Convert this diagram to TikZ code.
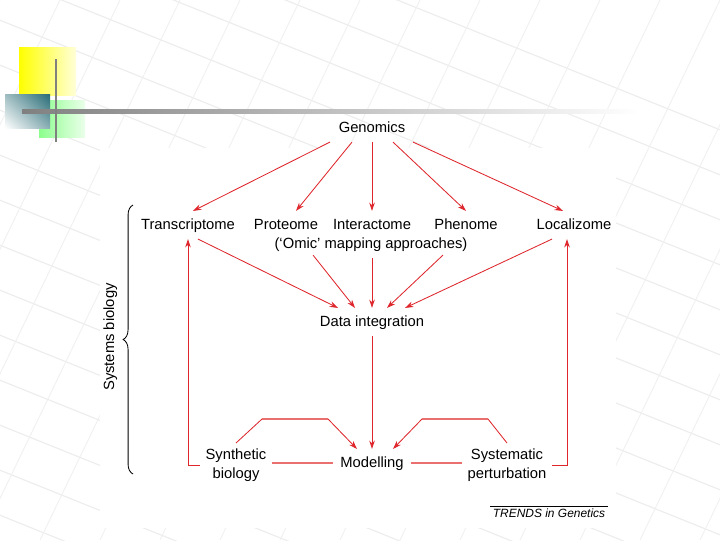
\documentclass[tikz,border=0pt]{standalone}
\usepackage{fontspec}
\setmainfont{Liberation Sans}
\usetikzlibrary{arrows.meta,calc,decorations.pathreplacing,shadings}
\definecolor{linkred}{RGB}{222,38,44}
\definecolor{linkpink}{RGB}{234,112,112}
\definecolor{slidegray}{RGB}{128,128,128}
\definecolor{slideteal}{RGB}{40,108,118}
\begin{document}
\begin{tikzpicture}[x=0.025cm,y=-0.025cm,
        term/.style={font=\fontsize{10.5}{13.5}\selectfont, inner sep=2pt, outer sep=3pt, text height=8pt, text depth=2pt},
        termtwo/.style={font=\fontsize{10.5}{13.5}\selectfont, inner sep=2pt, outer sep=2pt, align=center},
        arr/.style={draw=linkred, line width=0.6pt, -{Stealth[length=6pt,width=4pt]}},
        link/.style={draw=linkpink, line width=1.8pt}]
        % the slide and its faint template grid
        \useasboundingbox (0,0) rectangle (720,540);
        \fill[white] (0,0) rectangle (720,540);
        \foreach \i in {0,...,20}
            \draw[black!7, line width=0.8pt] (-100,-200+45*\i) -- (820,170+45*\i);
        \foreach \i in {0,...,16}
            \draw[black!6, line width=0.6pt] (60*\i,0) -- (60*\i-260,540);
        \fill[white] (100,148) rectangle (616,528);
        % corner squares and rules of the template
        \shade[left color=yellow, right color=yellow!15] (19,47) rectangle (76,95);
        \shade[left color=green!45, right color=green!8] (39,100) rectangle (85,137);
        \shade[upper right=slideteal, lower left=white, upper left=slideteal!45, lower right=slideteal!55] (5,94) rectangle (50,128);
        \shade[left color=slidegray, middle color=slidegray!85, right color=white] (22,109) rectangle (640,113);
        \draw[slidegray, line width=2pt] (56,59) -- (56,142);

        % the omics row
        \node[term] (gen) at (372,128) {Genomics};
        \node[term] (trans) at (188,225) {Transcriptome};
        \node[term] (prot) at (286,225) {Proteome};
        \node[term] (inter) at (372,225) {Interactome};
        \node[term] (phen) at (466,225) {Phenome};
        \node[term] (loc) at (574,225) {Localizome};
        \node[term] (omic) at (371,244) {(`Omic' mapping approaches)};
        % integration and modelling
        \node[term] (data) at (372,322) {Data integration};
        \node[term] (model) at (372,463) {Modelling};
        \node[termtwo] (synth) at (236,465) {Synthetic\\biology};
        \node[termtwo] (syst) at (507,465) {Systematic\\perturbation};
        % side label and source
        \node[term, rotate=90] (sysbio) at (110,337) {Systems biology};
        \draw[decorate, decoration={brace, amplitude=7pt}, line width=0.6pt] (133,474) -- (133,205);
        \node[font=\fontsize{8.5}{10}\selectfont\itshape, inner sep=1.5pt] (trends) at (549,513) {TRENDS in Genetics};
        \draw[line width=0.5pt] (trends.north west) -- (trends.north east);

        % genomics fans out to the omes
        \draw[arr] ($(gen.south)+(-42,0)$) -- ($(trans.north)+(5,0)$);
        \draw[arr] ($(gen.south)+(-20,0)$) -- ($(prot.north)+(10,0)$);
        \draw[arr] (gen.south) -- (inter.north);
        \draw[arr] ($(gen.south)+(21,0)$) -- (phen.north);
        \draw[arr] ($(gen.south)+(41,0)$) -- ($(loc.north)+(-11,0)$);
        % the omes feed data integration
        \draw[arr] ($(trans.south)+(10,0)$) -- ($(data.north)+(-34,0)$);
        \draw[arr] ($(omic.south)+(-58,-3)$) -- ($(data.north)+(-17,0)$);
        \draw[arr] (omic.south -| data) -- (data.north);
        \draw[arr] ($(omic.south)+(72,-3)$) -- ($(data.north)+(15,0)$);
        \draw[arr] ($(loc.south)+(-22,0)$) -- ($(data.north)+(33,0)$);
        \draw[arr] (data.south) -- (model.north);
        % links in the bottom row
        \draw[link] (synth.east |- model) -- (model.west);
        \draw[link] (model.east) -- (syst.west |- model);
        % feedback loops into modelling
        \draw[arr] (synth.north) -- ++(26,-24) coordinate (synthtop) -- ++(66,0) coordinate (synthend) -- ($(model.north)+(-15,0)$);
        \draw[link] (synthtop) -- (synthend);
        \draw[arr] (syst.north) -- ++(-19,-24) coordinate (systtop) -- ++(-66,0) coordinate (systend) -- ($(model.north)+(21,0)$);
        \draw[link] (systtop) -- (systend);
        % loops back up to the omes
        \draw[arr] (synth.west) -| (trans.south);
        \draw[arr] (syst.east) -| ($(loc.south)+(-7,0)$);
\end{tikzpicture}
\end{document}
